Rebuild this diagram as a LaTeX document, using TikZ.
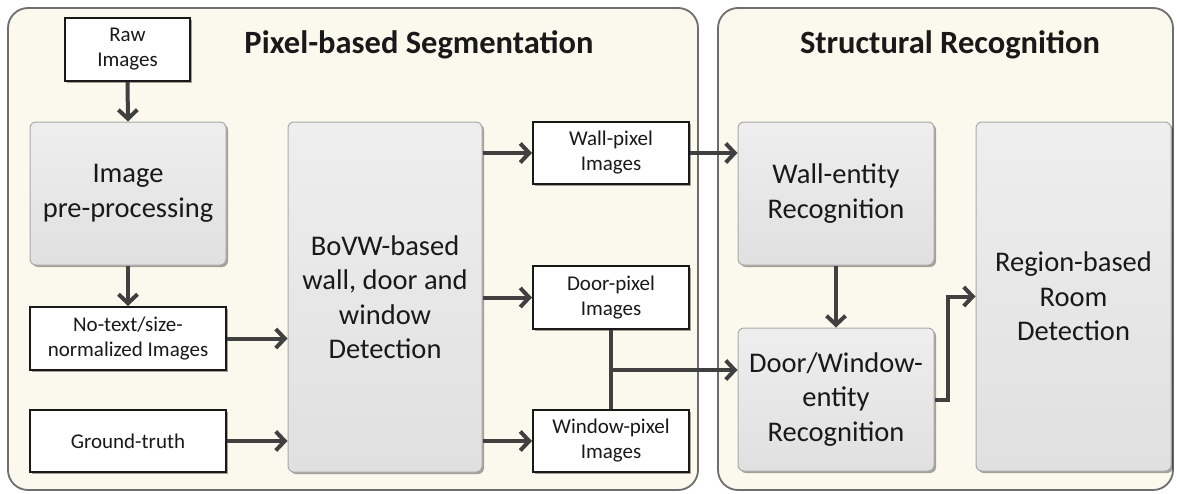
\documentclass[tikz,border=0pt]{standalone}
\usepackage{fontspec}
\setmainfont{Carlito}
\usetikzlibrary{arrows.meta,shadows,calc}
\definecolor{panelfill}{RGB}{251,248,238}
\definecolor{panelline}{RGB}{110,110,110}
\definecolor{graytop}{RGB}{238,238,238}
\definecolor{graybot}{RGB}{224,224,224}
\definecolor{grayline}{RGB}{170,170,170}
\definecolor{arrowc}{RGB}{64,64,64}
\definecolor{textc}{RGB}{25,25,25}
\tikzset{
  panel/.style={draw=panelline, line width=1.8pt, fill=panelfill, rounded corners=20pt},
  title/.style={font=\fontsize{32.5}{38}\selectfont\bfseries, text=textc},
  whitebox/.style={draw=textc, line width=2pt, fill=white, align=center, inner sep=0pt,
    font=\fontsize{21}{25}\selectfont, text=textc,
    drop shadow={shadow xshift=2pt, shadow yshift=-2pt, opacity=0.35, fill=black}},
  graybox/.style={draw=grayline, line width=1pt, top color=graytop, bottom color=graybot,
    rounded corners=6pt, align=center, inner sep=0pt,
    font=\fontsize{28.5}{34.5}\selectfont, text=textc,
    drop shadow={shadow xshift=2pt, shadow yshift=-2pt, opacity=0.35, fill=black}},
  arr/.style={draw=arrowc, line width=4pt, -{Straight Barb[length=9pt, width=19pt]}},
  link/.style={draw=arrowc, line width=4pt}
}
\begin{document}
\begin{tikzpicture}[x=1pt, y=-1pt]
\useasboundingbox (0,0) rectangle (1177,493);
\fill[white] (0,0) rectangle (1177,493);
% panels
\draw[panel] (8,8) rectangle (698,490);
\draw[panel] (718,8) rectangle (1173,490);
\node[title] (t1) at (419,45) {Pixel-based Segmentation};
\node[title] (t2) at (950,45) {Structural Recognition};
% left nodes
\node[whitebox, minimum width=125pt, minimum height=63pt] (raw) at (127.5,49.5) {Raw\\Images};
\node[graybox, minimum width=196pt, minimum height=143pt] (pre) at (128,193.5) {Image\\pre-processing};
\node[whitebox, minimum width=196pt, minimum height=63pt] (notext) at (128,338.5) {No-text/size-\\normalized Images};
\node[whitebox, minimum width=196pt, minimum height=62pt] (gt) at (128,441) {Ground-truth};
\node[graybox, minimum width=194pt, minimum height=350pt] (bovw) at (385,297) {BoVW-based\\wall, door and\\window\\Detection};
\node[whitebox, minimum width=156pt, minimum height=62pt] (wallpx) at (611,153) {Wall-pixel\\Images};
\node[whitebox, minimum width=156pt, minimum height=63pt] (doorpx) at (611,297.5) {Door-pixel\\Images};
\node[whitebox, minimum width=156pt, minimum height=62pt] (winpx) at (611,441) {Window-pixel\\Images};
% right nodes
\node[graybox, minimum width=196pt, minimum height=143pt] (wallent) at (836,193.5) {Wall-entity\\Recognition};
\node[graybox, minimum width=196pt, minimum height=143pt] (dwent) at (836,399.5) {Door/Window-\\entity\\Recognition};
\node[graybox, minimum width=195pt, minimum height=349pt] (region) at (1073.5,296.5) {Region-based\\Room\\Detection};
% connectors
\draw[arr] (raw.south) -- (pre.north);
\draw[arr] (pre.south) -- (notext.north);
\draw[arr] (notext.east) -- (notext.east -| bovw.west);
\draw[arr] (gt.east) -- (gt.east -| bovw.west);
\draw[arr] (bovw.east |- wallpx.west) -- (wallpx.west);
\draw[arr] (bovw.east |- doorpx.west) -- (doorpx.west);
\draw[arr] (bovw.east |- winpx.west) -- (winpx.west);
\draw[arr] (wallpx.east) -- (wallpx.east -| wallent.west);
\draw[link] (doorpx.south) -- (winpx.north);
\coordinate (j) at (611,370);
\draw[arr] (j) -- (j -| dwent.west);
\draw[arr] (wallent.south) -- (dwent.north);
\draw[arr] (dwent.east) -- ++(13,0) |- (region.west);
\end{tikzpicture}
\end{document}
